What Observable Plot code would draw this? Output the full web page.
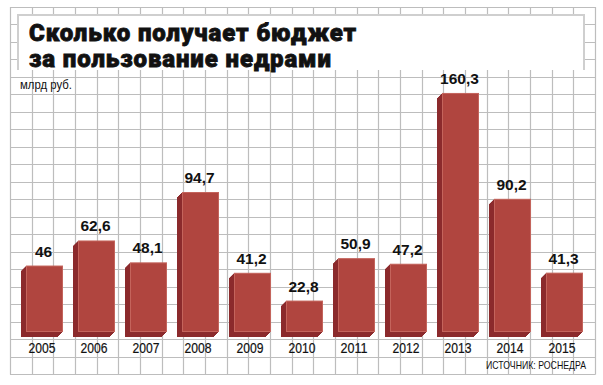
<!DOCTYPE html>
<html>
<head>
<meta charset="utf-8">
<script src="https://cdn.jsdelivr.net/npm/d3@7"></script>
<script src="https://cdn.jsdelivr.net/npm/@observablehq/plot@0.6"></script>
<style>
  html, body { margin: 0; padding: 0; background: #fff; }
  #wrap { position: relative; width: 603px; height: 385px; overflow: hidden; background: #fff; }
  #wrap > * { position: absolute; left: 0; top: 0; }
  #titlebox {
    left: 17px; top: 14px; width: 568px; height: 56px; background: #fff;
    border-top: 2px solid #cfcfcf; border-left: 2px solid #cfcfcf; border-right: 2px solid #cfcfcf;
    box-sizing: border-box;
  }
  #title {
    left: 29px; top: 20px; margin: 0;
    font-family: Roboto, "Liberation Sans", Arial, sans-serif; font-weight: 900;
    font-size: 24px; line-height: 26px; color: #111; white-space: nowrap; letter-spacing: 0.9px;
    -webkit-text-stroke: 0.8px #111;
  }
  #unit {
    left: 20px; top: 78px; font-family: "Liberation Sans", Arial, sans-serif; font-size: 12.5px; color: #111;
    transform-origin: 0 0;
  }
  #source {
    left: 486px; top: 359px; font-family: "Liberation Sans Narrow", "Liberation Sans", Arial, sans-serif;
    font-size: 11.5px; color: #111; white-space: nowrap; transform-origin: 0 0;
  }
</style>
</head>
<body>
<div id="wrap">
  <svg id="grid" width="603" height="385"></svg>
  <div id="titlebox"></div>
  <div id="title"></div>
  <div id="unit"></div>
  <div id="source"></div>
</div>
<script>
const years = ["2005", "2006", "2007", "2008", "2009", "2010", "2011", "2012", "2013", "2014", "2015"];
const values = [46, 62.6, 48.1, 94.7, 41.2, 22.8, 50.9, 47.2, 160.3, 90.2, 41.3];
const titleLines = ["Сколько получает бюджет", "за пользование недрами"];
const unitLabel = "млрд руб.";
const sourceLabel = "ИСТОЧНИК: РОСНЕДРА";

const data = years.map((year, i) => ({year, value: values[i]}));
const fmt = v => String(v).replace(".", ",");

// background graph-paper grid (decoration)
const g = d3.select("#grid");
const gx0 = 10, gx1 = 595, gy0 = 7, gy1 = 374, cols = 27, rows = 21;
for (let i = 0; i <= cols; i++) {
  const x = Math.round(gx0 + i * (gx1 - gx0) / cols) + 0.5;
  g.append("line").attr("x1", x).attr("x2", x).attr("y1", gy0).attr("y2", gy1 + 0.5)
    .attr("stroke", "#bdbdbd").attr("stroke-width", 1.2);
}
for (let j = 0; j <= rows; j++) {
  const y = Math.round(gy0 + j * (gy1 - gy0) / rows) + 0.5;
  g.append("line").attr("x1", gx0).attr("x2", gx1 + 0.5).attr("y1", y).attr("y2", y)
    .attr("stroke", "#bdbdbd").attr("stroke-width", 1.2);
}

document.getElementById("title").innerHTML = titleLines.join("<br>");
document.getElementById("unit").textContent = unitLabel;
const src = document.getElementById("source");
src.textContent = sourceLabel;

const front = "#b0453f", dark = "#8b2a2c", edge = "#c4645c";
const depth = [5, 4, 3, 2, 1];

const chart = Plot.plot({
  width: 603,
  height: 385,
  marginTop: 33,
  marginBottom: 50,
  marginLeft: 0,
  marginRight: 0,
  style: {background: "transparent", overflow: "visible"},
  x: {domain: years, range: [22, 587], paddingInner: 0.279, paddingOuter: 0, axis: null},
  y: {domain: [0, 200], axis: null},
  marks: [
    ...depth.map(k => Plot.rectY(data, {x: "year", y: "value", fill: dark, dx: -k, dy: k, insetBottom: 3})),
    Plot.rectY(data, {x: "year", y: "value", fill: front, stroke: edge, strokeWidth: 1, inset: 0.5, insetBottom: 3.5}),
    Plot.text(data, {x: "year", y: "value", text: d => fmt(d.value), dy: -9.5, dx: -1.5, lineAnchor: "bottom",
      fontSize: 15.5, fontWeight: "bold", fontFamily: "'Liberation Sans', Arial, sans-serif", fill: "#111"}),
    Plot.text(data, {x: "year", y: () => 0, text: "year", dy: 17.5, dx: -3, lineAnchor: "bottom",
      fontSize: 14.5, fontFamily: "'Liberation Sans', Arial, sans-serif", fill: "#111", stroke: "#111", strokeWidth: 0.2})
  ]
});
document.getElementById("wrap").appendChild(chart);
chart.style.position = "absolute";
chart.style.left = "0px";
chart.style.top = "0px";
// condense year labels to the narrow face of the reference
const textGroups = chart.querySelectorAll('g[aria-label="text"]');
if (textGroups.length > 1) {
  textGroups[1].querySelectorAll("text").forEach(t => {
    t.setAttribute("textLength", 27);
    t.setAttribute("lengthAdjust", "spacingAndGlyphs");
  });
}
// keep title above plot
const wrap = document.getElementById("wrap");
["titlebox", "title", "unit", "source"].forEach(id => wrap.appendChild(document.getElementById(id)));
// condense source to its width
const w = src.getBoundingClientRect().width;
src.style.transform = `scaleX(${100 / w})`;
const unit = document.getElementById("unit");
unit.style.transform = `scaleX(${52 / unit.getBoundingClientRect().width})`;
</script>
</body>
</html>
